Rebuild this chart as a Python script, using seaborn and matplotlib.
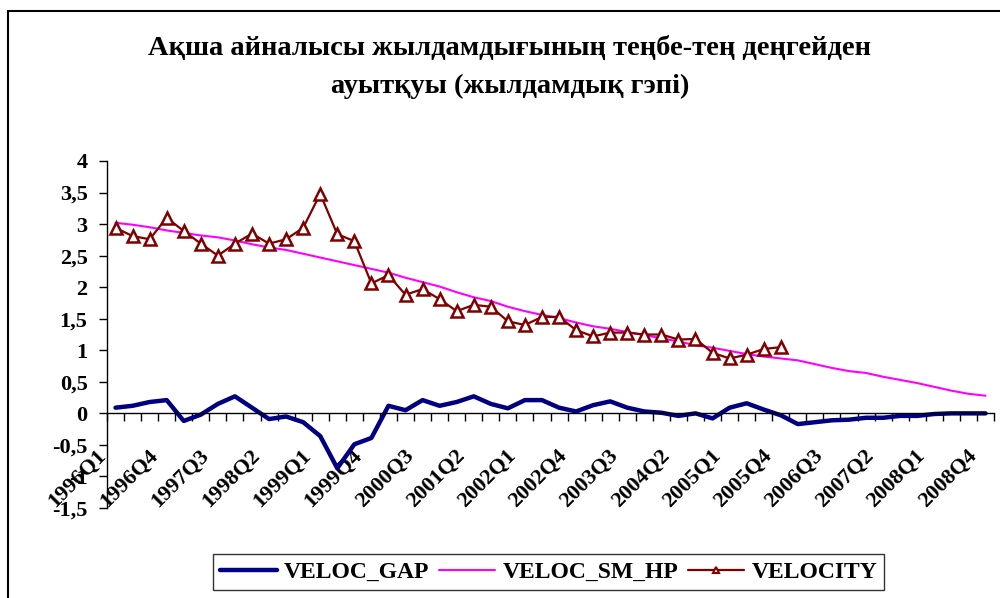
import matplotlib
matplotlib.use("Agg")
import matplotlib.pyplot as plt
from matplotlib.patches import Rectangle
from matplotlib.lines import Line2D
from matplotlib.transforms import ScaledTranslation
import numpy as np
import pandas as pd
import seaborn as sns

quarters = [f"{y}Q{q}" for y in range(1996, 2009) for q in range(1, 5)]

veloc_gap = [0.09, 0.12, 0.18, 0.21, -0.12, -0.02, 0.15, 0.27, 0.09, -0.09,
             -0.05, -0.14, -0.36, -0.87, -0.49, -0.39, 0.12, 0.05, 0.21, 0.12,
             0.18, 0.27, 0.15, 0.08, 0.21, 0.21, 0.09, 0.03, 0.13, 0.19,
             0.09, 0.03, 0.01, -0.04, 0.0, -0.08, 0.09, 0.16, 0.06, -0.03,
             -0.17, -0.14, -0.11, -0.10, -0.07, -0.07, -0.04, -0.04, -0.01, 0.0,
             0.0, 0.0]

veloc_sm_hp = [3.02, 2.99, 2.95, 2.90, 2.86, 2.82, 2.79, 2.74, 2.68, 2.63,
               2.59, 2.53, 2.47, 2.41, 2.35, 2.29, 2.23, 2.15, 2.08, 2.01,
               1.92, 1.84, 1.78, 1.69, 1.62, 1.56, 1.51, 1.44, 1.38, 1.34,
               1.29, 1.24, 1.19, 1.14, 1.08, 1.04, 0.99, 0.94, 0.90, 0.87,
               0.84, 0.78, 0.72, 0.67, 0.64, 0.58, 0.53, 0.48, 0.42, 0.36,
               0.31, 0.28]

velocity = [2.94, 2.81, 2.76, 3.10, 2.89, 2.69, 2.50, 2.69, 2.85, 2.69,
            2.76, 2.94, 3.48, 2.84, 2.73, 2.06, 2.19, 1.88, 1.97, 1.81,
            1.62, 1.72, 1.69, 1.46, 1.40, 1.53, 1.53, 1.32, 1.22, 1.28,
            1.28, 1.25, 1.25, 1.17, 1.18, 0.96, 0.87, 0.93, 1.02, 1.05]

title = "Ақша айналысы жылдамдығының теңбе-тең деңгейден\nауытқуы (жылдамдық гэпі)"

gap_df = pd.DataFrame({"pos": np.arange(len(quarters)), "value": veloc_gap})
hp_df = pd.DataFrame({"pos": np.arange(len(quarters)), "value": veloc_sm_hp})
vel_df = pd.DataFrame({"pos": np.arange(len(velocity)), "value": velocity})

sns.set_theme(style="white")
plt.rcParams["font.family"] = ["Liberation Serif", "DejaVu Serif"]
plt.rcParams["font.weight"] = "bold"
plt.rcParams["text.color"] = "black"
plt.rcParams["xtick.color"] = "black"
plt.rcParams["ytick.color"] = "black"

fig = plt.figure(figsize=(10, 5.98), dpi=100)
ax = fig.add_axes([0.107, 1 - 508 / 598, 0.887, (508 - 161) / 598])

navy, magenta, maroon = "#000080", "#FF00FF", "#800000"
sns.lineplot(data=gap_df, x="pos", y="value", ax=ax, color=navy, linewidth=3.2)
sns.lineplot(data=hp_df, x="pos", y="value", ax=ax, color=magenta, linewidth=1.5)
sns.lineplot(data=vel_df, x="pos", y="value", ax=ax, color=maroon, linewidth=1.6,
             marker="^", markersize=8.5, markerfacecolor="white",
             markeredgecolor=maroon, markeredgewidth=1.8)

ax.set_xlim(-0.5, len(quarters) - 0.5)
ax.set_ylim(-1.5, 4)
ax.set_xlabel("")
ax.set_ylabel("")

ax.spines["top"].set_visible(False)
ax.spines["right"].set_visible(False)
ax.spines["bottom"].set_position(("data", 0))
for s in ("left", "bottom"):
    ax.spines[s].set_color("black")
    ax.spines[s].set_linewidth(1)

yticks = np.arange(-1.5, 4.01, 0.5)
ax.set_yticks(yticks)
ax.set_yticklabels([f"{v:g}".replace(".", ",") for v in yticks])
ax.tick_params(axis="y", direction="out", length=6, width=1, color="black",
               labelcolor="black", left=True, labelsize=16, pad=8)

ax.set_xticks(np.arange(0, len(quarters), 3))
ax.set_xticklabels(quarters[::3], rotation=45, ha="right", va="top",
                   rotation_mode="anchor")
ax.set_xticks(np.arange(-0.5, len(quarters), 1), minor=True)
ax.tick_params(axis="x", which="major", length=0, labelsize=16, pad=23,
               labelcolor="black")
ax.tick_params(axis="x", which="minor", direction="out", length=6, width=1,
               color="black", bottom=True)
# labels sit a bit left of their category, like the excel original
shift = ScaledTranslation(-0.19, 0, fig.dpi_scale_trans)
for lbl in ax.get_xticklabels():
    lbl.set_transform(lbl.get_transform() + shift)

fig.text(0.51, 1 - 67.5 / 598, title, ha="center", va="center", fontsize=20.5,
         fontweight="bold", linespacing=1.65, color="black")

handles = [
    Line2D([], [], color=navy, linewidth=3.2),
    Line2D([], [], color=magenta, linewidth=1.5),
    Line2D([], [], color=maroon, linewidth=1.6, marker="^", markersize=5,
           markerfacecolor="white", markeredgecolor=maroon, markeredgewidth=1.5),
]
leg = fig.legend(handles, ["VELOC_GAP", "VELOC_SM_HP", "VELOCITY"],
                 loc="center", bbox_to_anchor=(0.5485, 1 - 572 / 598), ncol=3,
                 frameon=True, fancybox=False, edgecolor="black",
                 fontsize=17, handlelength=2.4, handletextpad=0.3,
                 columnspacing=0.4, borderpad=0.3, labelcolor="black")
leg.get_frame().set_linewidth(1)

fig.patches.append(Rectangle((0.008, -0.1), 1.2, 1.1 - 11 / 598, fill=False,
                             edgecolor="black", linewidth=1.5,
                             transform=fig.transFigure, figure=fig))

fig.savefig("out.png", dpi=100)
